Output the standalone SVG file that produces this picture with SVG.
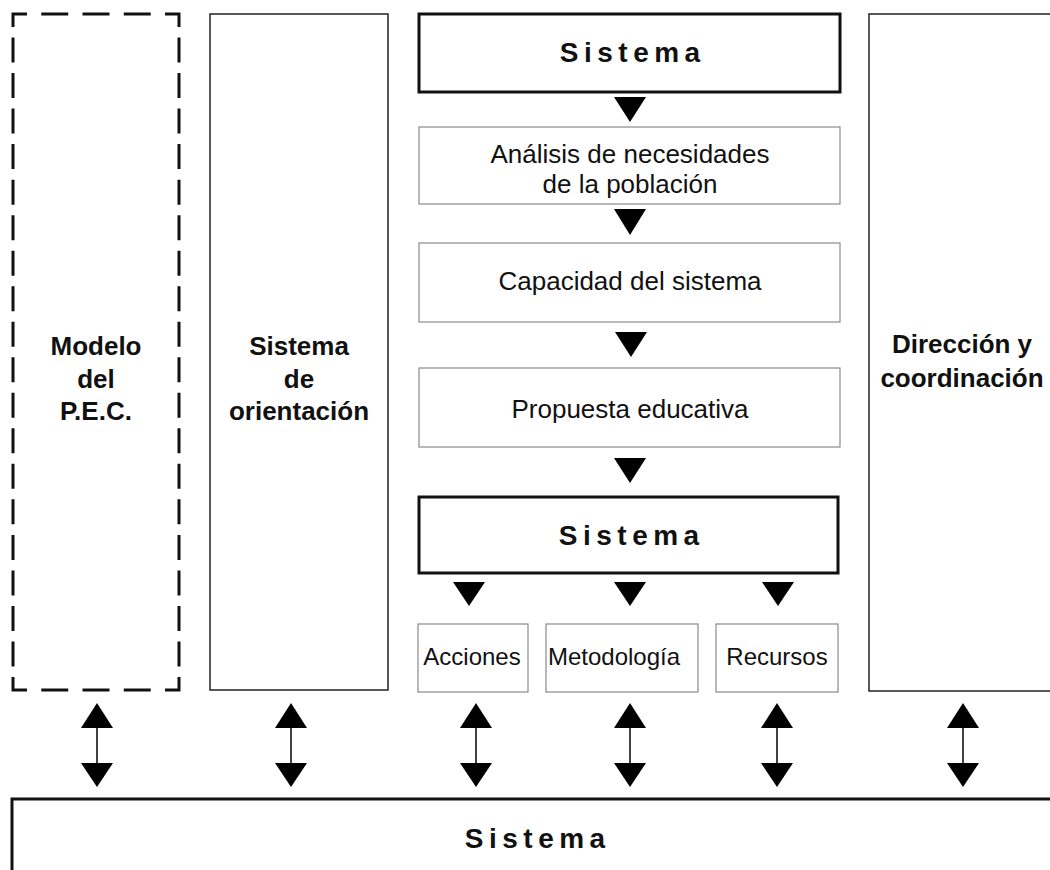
<svg xmlns="http://www.w3.org/2000/svg" width="1050" height="870" viewBox="0 0 1050 870">
<defs>
<style>
.bg{fill:#ffffff}
.thick{fill:#fff;stroke:#111;stroke-width:3}
.thin{fill:#fff;stroke:#222;stroke-width:1.5}
.light{fill:#fff;stroke:#8a8a8a;stroke-width:1.2}
.dash{fill:none;stroke:#111;stroke-width:3;stroke-linecap:butt}
.title{font-family:"Liberation Sans",Arial,sans-serif;font-weight:bold;font-size:28px;letter-spacing:5.5px;fill:#111;text-anchor:middle}
.label{font-family:"Liberation Sans",Arial,sans-serif;font-weight:bold;font-size:26px;fill:#111;text-anchor:middle}
.txt{font-family:"Liberation Sans",Arial,sans-serif;font-size:26px;fill:#111;text-anchor:middle}
.small{font-family:"Liberation Sans",Arial,sans-serif;font-size:24px;fill:#111;text-anchor:middle}
.tri{fill:#000}
.shaft{stroke:#111;stroke-width:1.6}
</style>
</defs>
<rect class="bg" x="0" y="0" width="1050" height="870"/>

<g id="modelo">
<path class="dash" d="M13,27 V14 H27 M165,14 H179 V27 M13,677 V690 H27 M165,690 H179 V677"/>
<line class="dash" x1="27" y1="14" x2="165" y2="14" stroke-dasharray="27 14.25" stroke-dashoffset="27"/>
<line class="dash" x1="27" y1="690" x2="165" y2="690" stroke-dasharray="27 14.25" stroke-dashoffset="27"/>
<line class="dash" x1="13" y1="27" x2="13" y2="677" stroke-dasharray="25 10.526" stroke-dashoffset="25"/>
<line class="dash" x1="179" y1="27" x2="179" y2="677" stroke-dasharray="25 10.526" stroke-dashoffset="25"/>
<text class="label" x="96" y="355">Modelo</text>
<text class="label" x="96" y="388">del</text>
<text class="label" x="96" y="420">P.E.C.</text>
</g>

<g id="orientacion">
<rect class="thin" x="210" y="14" width="178" height="676"/>
<text class="label" x="299" y="355">Sistema</text>
<text class="label" x="299" y="388">de</text>
<text class="label" x="299" y="420">orientación</text>
</g>

<g id="sistema-top">
<rect class="thick" x="419" y="14" width="421" height="78"/>
<text class="title" x="632.75" y="62">Sistema</text>
</g>

<g id="analisis">
<rect class="light" x="419" y="127" width="421" height="77"/>
<text class="txt" x="630" y="163">Análisis de necesidades</text>
<text class="txt" x="630" y="193">de la población</text>
</g>

<g id="capacidad">
<rect class="light" x="419" y="243" width="421" height="79"/>
<text class="txt" x="630" y="290">Capacidad del sistema</text>
</g>

<g id="propuesta">
<rect class="light" x="419" y="368" width="421" height="79"/>
<text class="txt" x="630" y="418">Propuesta educativa</text>
</g>

<g id="sistema-mid">
<rect class="thick" x="419" y="497" width="419" height="76"/>
<text class="title" x="631.75" y="545">Sistema</text>
</g>

<g id="acciones">
<rect class="light" x="418" y="624" width="110" height="68"/>
<text class="small" x="472" y="665">Acciones</text>
</g>

<g id="metodologia">
<rect class="light" x="546" y="624" width="152" height="68"/>
<text class="small" x="614" y="665">Metodología</text>
</g>

<g id="recursos">
<rect class="light" x="716" y="624" width="122" height="68"/>
<text class="small" x="777" y="665">Recursos</text>
</g>

<g id="direccion">
<rect class="thin" x="869" y="14" width="200" height="677"/>
<text class="label" x="962" y="353">Dirección y</text>
<text class="label" x="962" y="387">coordinación</text>
</g>

<g id="sistema-bottom">
<rect class="thick" x="12" y="799" width="1060" height="100"/>
<text class="title" x="537.75" y="848">Sistema</text>
</g>

<g id="connectors">
<polygon class="tri" points="614,97 646,97 630,122"/>
<polygon class="tri" points="614,209 646,209 630,235"/>
<polygon class="tri" points="615,332 647,332 631,357"/>
<polygon class="tri" points="614,458 646,458 630,483"/>
<polygon class="tri" points="453,582 485,582 469,606"/>
<polygon class="tri" points="614,582 646,582 630,606"/>
<polygon class="tri" points="762,582 794,582 778,606"/>

<g id="bidir-1">
<line class="shaft" x1="97" y1="726" x2="97" y2="765"/>
<polygon class="tri" points="97,703 113,728 81,728"/>
<polygon class="tri" points="81,763 113,763 97,787"/>
</g>
<g id="bidir-2">
<line class="shaft" x1="291" y1="726" x2="291" y2="765"/>
<polygon class="tri" points="291,703 307,728 275,728"/>
<polygon class="tri" points="275,763 307,763 291,787"/>
</g>
<g id="bidir-3">
<line class="shaft" x1="476" y1="726" x2="476" y2="765"/>
<polygon class="tri" points="476,703 492,728 460,728"/>
<polygon class="tri" points="460,763 492,763 476,787"/>
</g>
<g id="bidir-4">
<line class="shaft" x1="630" y1="726" x2="630" y2="765"/>
<polygon class="tri" points="630,703 646,728 614,728"/>
<polygon class="tri" points="614,763 646,763 630,787"/>
</g>
<g id="bidir-5">
<line class="shaft" x1="777" y1="726" x2="777" y2="765"/>
<polygon class="tri" points="777,703 793,728 761,728"/>
<polygon class="tri" points="761,763 793,763 777,787"/>
</g>
<g id="bidir-6">
<line class="shaft" x1="963" y1="726" x2="963" y2="765"/>
<polygon class="tri" points="963,703 979,728 947,728"/>
<polygon class="tri" points="947,763 979,763 963,787"/>
</g>
</g>
</svg>
